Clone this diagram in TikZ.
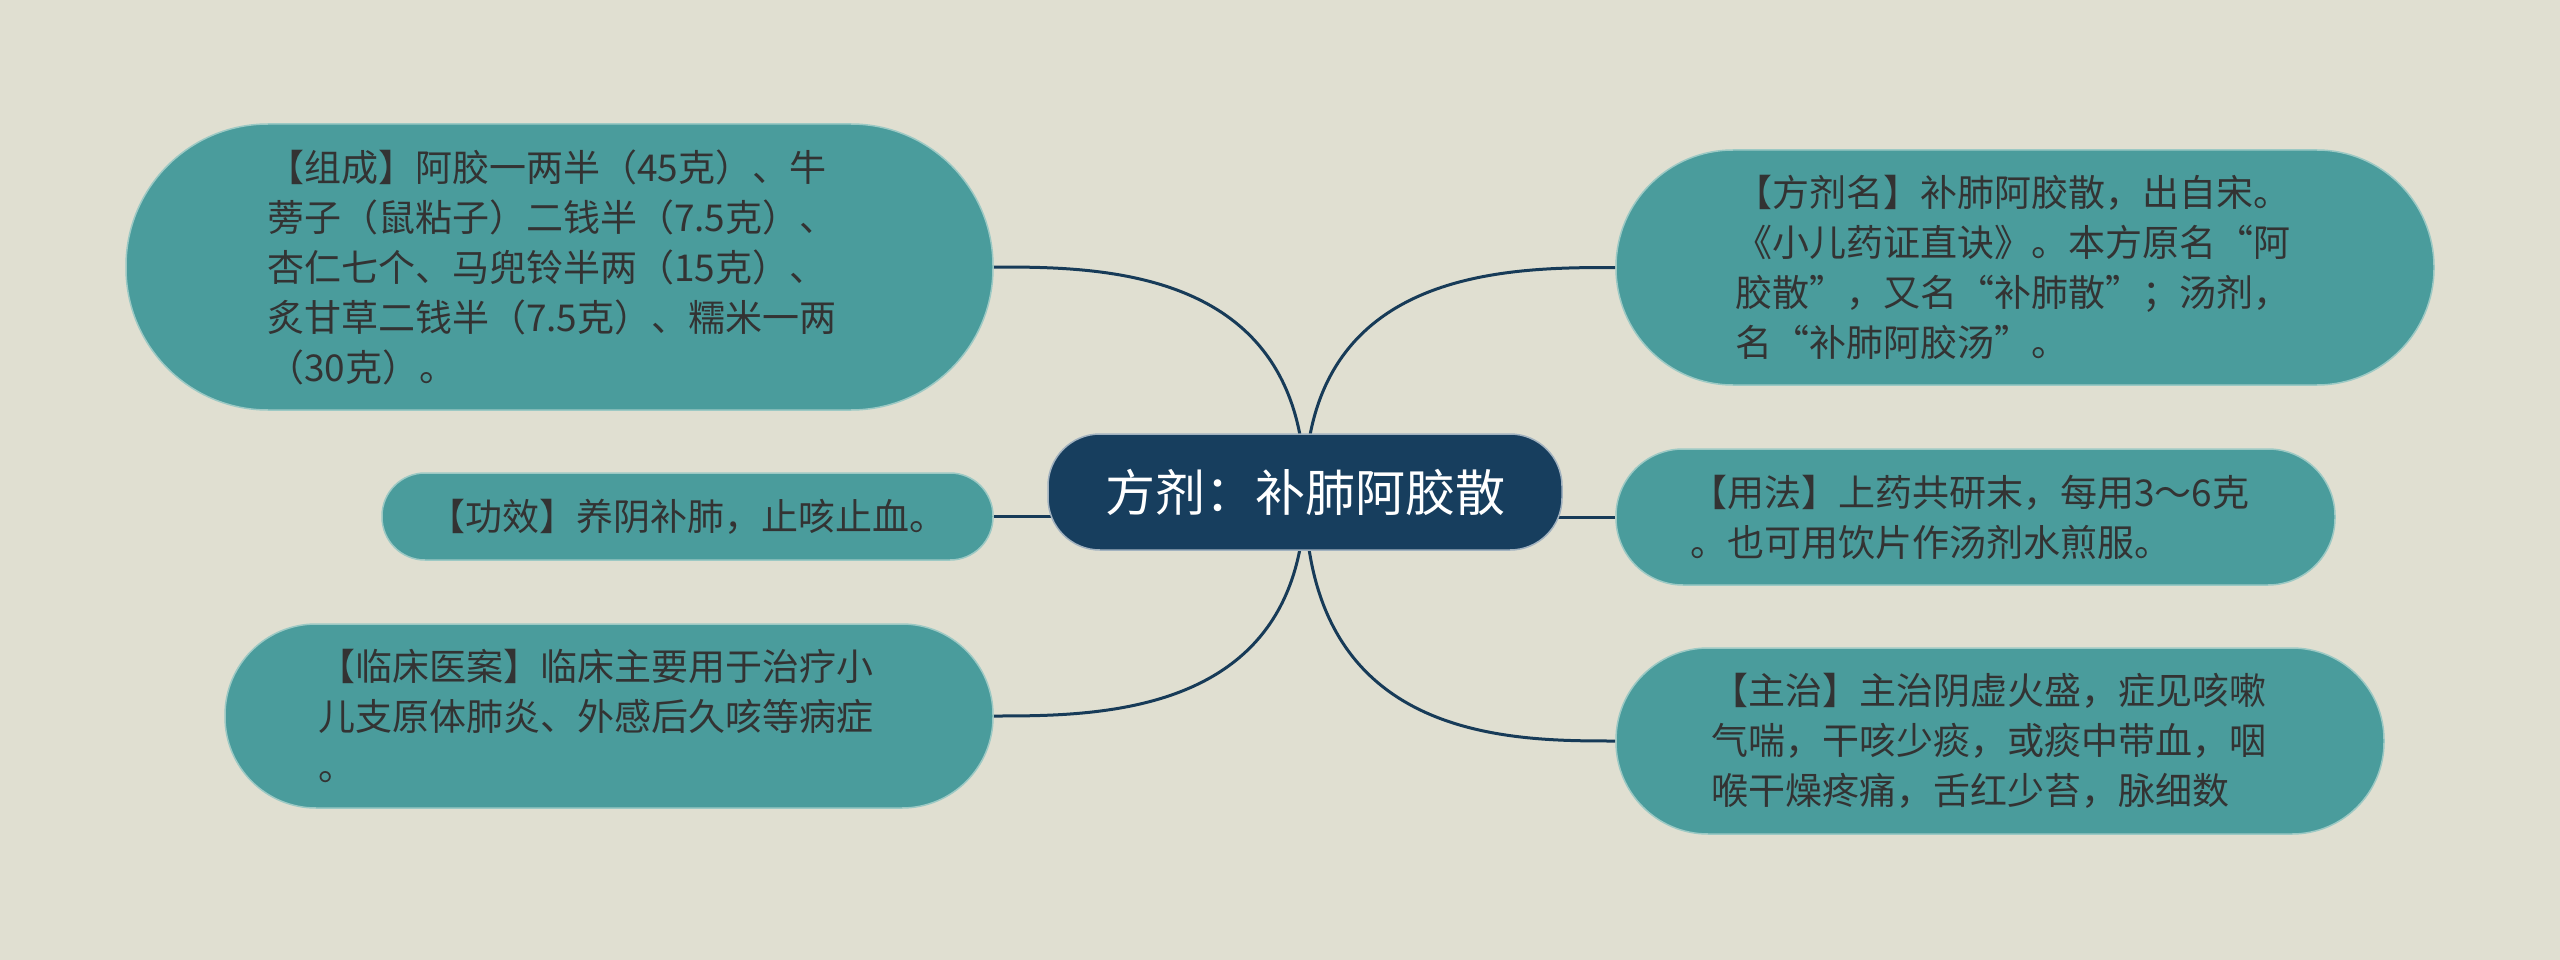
\documentclass[tikz,border=0pt]{standalone}
\usepackage{fontspec}
\setmainfont{Noto Sans CJK SC}
\usetikzlibrary{calc}
\definecolor{bgc}{HTML}{E0DFD1}
\definecolor{tealc}{HTML}{4A9C9C}
\definecolor{tealedge}{HTML}{9CC9C4}
\definecolor{navyc}{HTML}{173E5E}
\definecolor{linec}{HTML}{173B58}
\definecolor{txtc}{HTML}{333333}
\pgfdeclarelayer{back}
\pgfdeclarelayer{lines}
\pgfsetlayers{back,lines,main}
\begin{document}
\begin{tikzpicture}[x=1pt,y=-1pt,
  leafbox/.style={fill=tealc,draw=tealedge,line width=1.5pt,inner sep=0pt,align=left,text=txtc,font=\fontsize{37pt}{50pt}\selectfont},
  hubbox/.style={fill=navyc,draw=white!60!navyc,line width=1.5pt,inner sep=0pt,text=white,font=\fontsize{50pt}{60pt}\selectfont},
  linkline/.style={draw=linec,line width=3pt}]
\useasboundingbox (0,0) rectangle (2560,960);
\begin{pgfonlayer}{back}
\fill[bgc] (0,0) rectangle (2560,960);
\end{pgfonlayer}

\node[hubbox,minimum width=514pt,minimum height=116pt,rounded corners=52pt] (ce) at (1305,492) {方剂：补肺阿胶散};

\node[leafbox,minimum width=867pt,minimum height=286pt,rounded corners=142pt,text width=585pt] (zc) at (559.5,267) {【组成】阿胶一两半（45克）、牛\\蒡子（鼠粘子）二钱半（7.5克）、\\杏仁七个、马兜铃半两（15克）、\\炙甘草二钱半（7.5克）、糯米一两\\（30克）。};

\node[leafbox,minimum width=611pt,minimum height=87pt,rounded corners=43pt] (gx) at (687.5,516.5) {【功效】养阴补肺，止咳止血。};

\node[leafbox,minimum width=768pt,minimum height=184pt,rounded corners=91pt,text width=582pt] (lc) at (609,716) {【临床医案】临床主要用于治疗小\\儿支原体肺炎、外感后久咳等病症\\。};

\node[leafbox,minimum width=818pt,minimum height=235pt,rounded corners=117pt,text width=580pt] (fj) at (2025,267.5) {【方剂名】补肺阿胶散，出自宋。\\《小儿药证直诀》。本方原名“阿\\胶散”，又名“补肺散”；汤剂，\\名“补肺阿胶汤”。};

\node[leafbox,minimum width=719pt,minimum height=136pt,rounded corners=67pt,text width=571pt] (yf) at (1975.5,517) {【用法】上药共研末，每用3～6克\\。也可用饮片作汤剂水煎服。};

\node[leafbox,minimum width=768pt,minimum height=186pt,rounded corners=92pt,text width=578pt] (zz) at (2000,741) {【主治】主治阴虚火盛，症见咳嗽\\气喘，干咳少痰，或痰中带血，咽\\喉干燥疼痛，舌红少苔，脉细数};

\begin{pgfonlayer}{lines}
\draw[linkline] (ce.center) .. controls (ce.center |- zc.east) and ($(zc.east)+(107,0)$) .. (zc.east);
\draw[linkline] (ce.center) .. controls (ce.center |- fj.west) and ($(fj.west)+(-107,0)$) .. (fj.west);
\draw[linkline] (ce.center) .. controls (ce.center |- lc.east) and ($(lc.east)+(107,0)$) .. (lc.east);
\draw[linkline] (ce.center) .. controls (ce.center |- zz.west) and ($(zz.west)+(-107,0)$) .. (zz.west);
\draw[linkline] (gx.east) -- (gx.east -| ce.center);
\draw[linkline] (yf.west) -- (yf.west -| ce.center);
\end{pgfonlayer}
\end{tikzpicture}
\end{document}
